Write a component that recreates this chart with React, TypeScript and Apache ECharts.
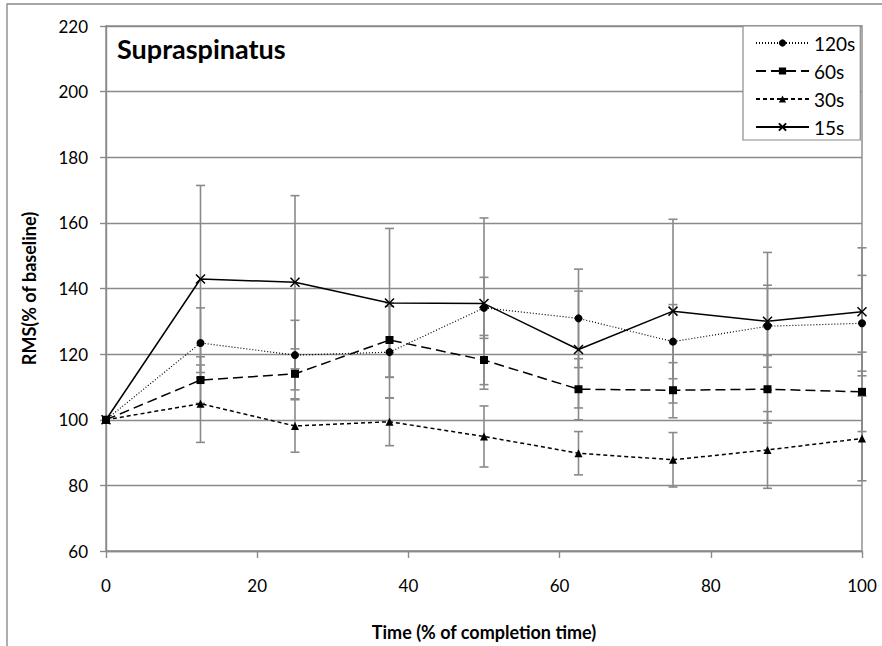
import React, { useEffect, useRef } from "react";
import * as echarts from "echarts";

// Sample times, % of completion time
const timePoints = [0, 12.5, 25, 37.5, 50, 62.5, 75, 87.5, 100];

// Mean RMS (% of baseline) per condition
const rms120 = [100, 123.4, 119.7, 120.6, 134.1, 130.9, 123.8, 128.5, 129.4];
const rms60 = [100, 112.1, 114.0, 124.3, 118.2, 109.3, 109.0, 109.3, 108.5];
const rms30 = [100, 104.9, 98.1, 99.4, 94.9, 89.8, 87.8, 90.8, 94.3];
const rms15 = [100, 142.9, 141.9, 135.6, 135.4, 121.4, 133.1, 130.0, 132.9];

// Standard deviations (error bar half-lengths)
const sd120 = [0, 10.7, 10.6, 14.0, 9.3, 15.0, 11.3, 12.5, 14.6];
const sd60 = [0, 7.1, 7.6, 11.3, 7.5, 9.3, 8.4, 10.3, 12.1];
const sd30 = [0, 11.8, 8.0, 7.3, 9.3, 6.6, 8.3, 11.7, 12.9];
const sd15 = [0, 28.5, 26.4, 22.7, 26.1, 17.8, 28.0, 21.0, 19.5];

const seriesNames = ["120s", "60s", "30s", "15s"];
const yTicks = { min: 60, max: 220, interval: 20 };
const xTicks = { min: 0, max: 100, interval: 20 };

const GRAY = "#8a8a8a";
const FONT = "Lato";

const pairs = (vals: number[]) => timePoints.map((t, i) => [t, vals[i]]);
const errTriples = (vals: number[], sds: number[]) =>
  timePoints.map((t, i) => [t, vals[i], sds[i]]);

const renderErrorBar = (_params: any, api: any) => {
  const x = api.value(0);
  const m = api.value(1);
  const e = api.value(2);
  if (!e) return null;
  const top = api.coord([x, m + e]);
  const bot = api.coord([x, m - e]);
  const hw = 4.5;
  const style = { stroke: GRAY, lineWidth: 1.6 };
  return {
    type: "group",
    children: [
      { type: "line", shape: { x1: top[0], y1: top[1], x2: bot[0], y2: bot[1] }, style },
      { type: "line", shape: { x1: top[0] - hw, y1: top[1], x2: top[0] + hw, y2: top[1] }, style },
      { type: "line", shape: { x1: bot[0] - hw, y1: bot[1], x2: bot[0] + hw, y2: bot[1] }, style },
    ],
  };
};

const errorSeries = (name: string, vals: number[], sds: number[]) => ({
  name,
  type: "custom",
  renderItem: renderErrorBar,
  data: errTriples(vals, sds),
  encode: { x: 0, y: 1 },
  z: 1,
  silent: true,
});

const crossPath = "path://M0,0L10,10M10,0L0,10";

export default function App() {
  const ref = useRef<HTMLDivElement>(null);

  useEffect(() => {
    document.body.style.margin = "0";
    if (!ref.current) return;
    const chart = echarts.init(ref.current, undefined, { renderer: "svg" });

    const lineSeries = (
      name: string,
      vals: number[],
      symbol: string,
      symbolSize: number,
      lineType: any,
      lineWidth: number
    ) => ({
      name,
      type: "line",
      data: pairs(vals),
      symbol,
      symbolSize,
      showSymbol: true,
      z: 3,
      lineStyle: { color: "#000", width: lineWidth, type: lineType },
      itemStyle: { color: "#000", borderColor: "#000", borderWidth: symbol === crossPath ? 1.5 : 0 },
      emphasis: { disabled: true },
    });

    chart.setOption({
      animation: false,
      backgroundColor: "#fff",
      textStyle: { fontFamily: FONT },
      grid: {
        left: 106,
        right: 20,
        top: 26,
        bottom: 94,
        show: true,
        borderColor: GRAY,
        borderWidth: 1.4,
      },
      title: {
        text: "Supraspinatus",
        left: 112,
        top: 30,
        textStyle: { fontFamily: FONT, fontWeight: "bold", fontSize: 27, color: "#000" },
      },
      legend: {
        data: seriesNames,
        orient: "vertical",
        left: 743,
        top: 26,
        padding: [7, 5, 3, 12],
        itemGap: 8,
        itemWidth: 53,
        itemHeight: 9,
        backgroundColor: "#fff",
        borderColor: GRAY,
        borderWidth: 1.2,
        textStyle: { fontFamily: FONT, fontSize: 19, color: "#000", lineHeight: 20 },
      },
      xAxis: {
        type: "value",
        min: xTicks.min,
        max: xTicks.max,
        interval: xTicks.interval,
        name: "Time (% of completion time)",
        nameLocation: "middle",
        nameGap: 72,
        nameTextStyle: { fontFamily: FONT, fontWeight: "bold", fontSize: 18, color: "#000" },
        axisLine: { show: true, lineStyle: { color: GRAY, width: 1.4 } },
        axisTick: { show: true, length: 7, lineStyle: { color: GRAY, width: 1.4 } },
        axisLabel: { margin: 26, fontFamily: FONT, fontSize: 17, color: "#000" },
        splitLine: { show: false },
      },
      yAxis: {
        type: "value",
        min: yTicks.min,
        max: yTicks.max,
        interval: yTicks.interval,
        name: "RMS(% of baseline)",
        nameLocation: "middle",
        nameGap: 68,
        nameTextStyle: { fontFamily: FONT, fontWeight: "bold", fontSize: 18, color: "#000" },
        axisLine: { show: true, lineStyle: { color: GRAY, width: 1.4 } },
        axisTick: { show: true, length: 6, lineStyle: { color: GRAY, width: 1.4 } },
        axisLabel: { margin: 18, fontFamily: FONT, fontSize: 17, color: "#000" },
        splitLine: { show: true, lineStyle: { color: GRAY, width: 1.4 } },
      },
      graphic: [
        {
          type: "rect",
          shape: { x: 7, y: 4, width: 1200, height: 1200 },
          style: { fill: "none", stroke: GRAY, lineWidth: 1.4 },
          silent: true,
          z: -1,
        },
      ],
      series: [
        errorSeries("120s SD", rms120, sd120),
        errorSeries("60s SD", rms60, sd60),
        errorSeries("30s SD", rms30, sd30),
        errorSeries("15s SD", rms15, sd15),
        lineSeries("120s", rms120, "circle", 8, [1, 2], 1.2),
        lineSeries("60s", rms60, "rect", 8, [10, 5], 1.5),
        lineSeries("30s", rms30, "triangle", 8, [4, 3], 1.5),
        lineSeries("15s", rms15, crossPath, 9, "solid", 1.5),
      ],
    });

    return () => chart.dispose();
  }, []);

  return <div ref={ref} style={{ width: 882, height: 646 }} />;
}
